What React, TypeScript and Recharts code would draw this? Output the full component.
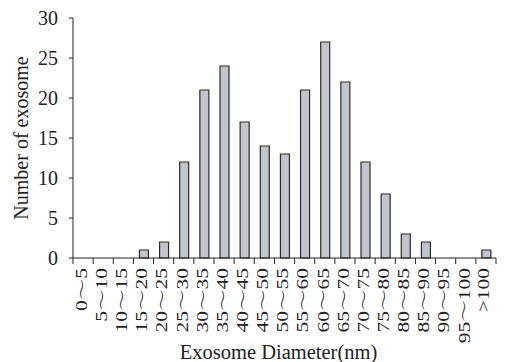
import React from "react";
import { BarChart, Bar, XAxis, YAxis } from "recharts";

const categories = [
  "0～5", "5～10", "10～15", "15～20", "20～25", "25～30", "30～35", "35～40",
  "40～45", "45～50", "50～55", "55～60", "60～65", "65～70", "70～75", "75～80",
  "80～85", "85～90", "90～95", "95～100", ">100",
];
const counts = [0, 0, 0, 1, 2, 12, 21, 24, 17, 14, 13, 21, 27, 22, 12, 8, 3, 2, 0, 0, 1];
const yTicks = [0, 5, 10, 15, 20, 25, 30];

const data = categories.map((c, i) => ({ range: c, count: counts[i] }));

const FONT = "'Liberation Serif', 'Times New Roman', serif";
const TILDE_FONT = "'Noto Serif CJK SC', 'Noto Sans CJK SC', serif";

const XTick = (props: any) => {
  const { x, y, payload, index } = props;
  const half = payload && payload.offset ? payload.offset : 10;
  const last = index === categories.length - 1;
  const parts = String(payload.value).split("～");
  return (
    <g transform={`translate(${x},${y})`}>
      <line x1={-half} y1={0} x2={-half} y2={6} stroke="#222" strokeWidth={1} />
      {last && <line x1={half} y1={0} x2={half} y2={6} stroke="#222" strokeWidth={1} />}
      <text
        transform="rotate(-90) scale(1,0.8)"
        x={-10}
        y={-3}
        textAnchor="end"
        dominantBaseline="central"
        fontSize={21.5}
        fontFamily={FONT}
        fill="#222"
      >
        {parts.length === 2 ? (
          <>
            <tspan>{parts[0]}</tspan>
            <tspan fontFamily={TILDE_FONT}>～</tspan>
            <tspan>{parts[1]}</tspan>
          </>
        ) : (
          payload.value
        )}
      </text>
    </g>
  );
};

const YTick = (props: any) => {
  const { x, y, payload } = props;
  return (
    <text x={x} y={y} textAnchor="end" dominantBaseline="central" fontSize={20} fontFamily={FONT} fill="#222">
      {payload.value}
    </text>
  );
};

const YLabel = (props: any) => {
  const vb = props.viewBox || {};
  const cy = vb.y + vb.height / 2;
  return (
    <text
      transform={`translate(21,${cy}) rotate(-90)`}
      textAnchor="middle"
      dominantBaseline="central"
      fontSize={20}
      fontFamily={FONT}
      fill="#222"
    >
      Number of exosome
    </text>
  );
};

const XLabel = (props: any) => {
  const vb = props.viewBox || {};
  const cx = vb.x + vb.width / 2 - 6;
  return (
    <text x={cx} y={359} textAnchor="middle" fontSize={20.5} fontFamily={FONT} fill="#222">
      Exosome Diameter(nm)
    </text>
  );
};

export default function App() {
  return (
    <div style={{ position: "absolute", left: 0, top: 0, width: 509, height: 362, background: "#fff" }}>
      <BarChart
        width={509}
        height={362}
        data={data}
        margin={{ top: 18, right: 13, bottom: 0, left: 0 }}
        barCategoryGap={0}
      >
        <XAxis
          dataKey="range"
          interval={0}
          height={104}
          tickLine={false}
          tickSize={0}
          tickMargin={0}
          axisLine={{ stroke: "#222", strokeWidth: 1 }}
          tick={<XTick />}
          label={<XLabel />}
        />
        <YAxis
          width={73}
          domain={[0, 30]}
          ticks={yTicks}
          interval={0}
          tickSize={4}
          tickMargin={11}
          axisLine={{ stroke: "#222", strokeWidth: 1 }}
          tickLine={{ stroke: "#222", strokeWidth: 1 }}
          tick={<YTick />}
          label={<YLabel />}
        />
        <Bar
          dataKey="count"
          barSize={9}
          fill="#c3c5cc"
          stroke="#2a2a2a"
          strokeWidth={1.2}
          isAnimationActive={false}
        />
      </BarChart>
    </div>
  );
}
